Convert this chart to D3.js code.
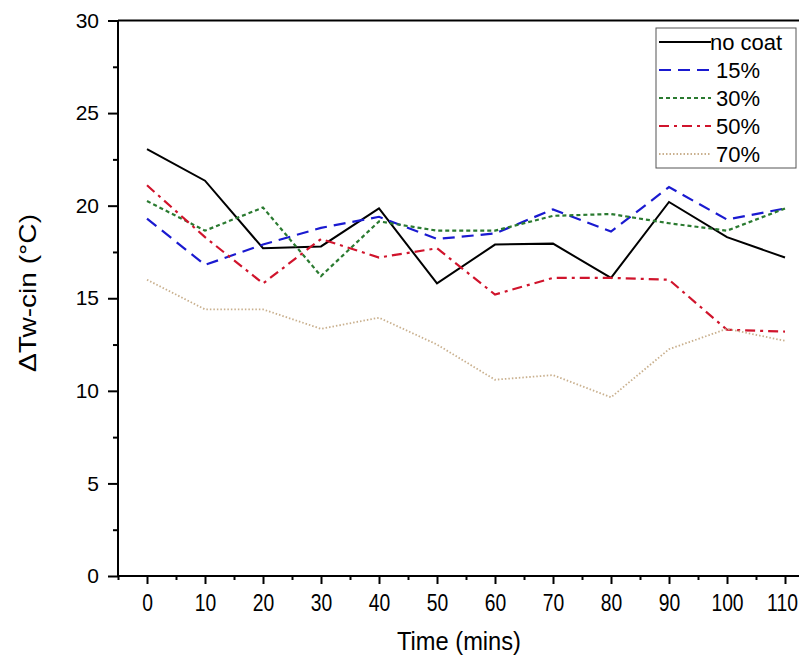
<!DOCTYPE html>
<html>
<head>
<meta charset="utf-8">
<script src="https://cdn.jsdelivr.net/npm/d3@7"></script>
<style>
  body { margin: 0; background: #fff; }
  svg { display: block; font-family: "Liberation Sans", Arial, sans-serif; }
</style>
</head>
<body>
<svg id="chart" width="799" height="662"></svg>
<script>
// time steps (mins)
const times = [0, 10, 20, 30, 40, 50, 60, 70, 80, 90, 100, 110];
// ΔTw-cin (°C) per coating
const noCoat = [23.05, 21.35, 17.7, 17.8, 19.85, 15.8, 17.9, 17.95, 16.1, 20.2, 18.3, 17.2];
const p15 = [19.3, 16.8, 17.9, 18.8, 19.4, 18.2, 18.5, 19.8, 18.6, 21.0, 19.25, 19.85];
const p30 = [20.25, 18.65, 19.9, 16.2, 19.15, 18.65, 18.65, 19.45, 19.55, 19.05, 18.65, 19.85];
const p50 = [21.1, 18.3, 15.8, 18.2, 17.2, 17.7, 15.2, 16.1, 16.1, 16.0, 13.3, 13.2];
const p70 = [16.0, 14.4, 14.4, 13.35, 13.95, 12.5, 10.6, 10.85, 9.65, 12.25, 13.35, 12.7];
const xTicks = [0, 10, 20, 30, 40, 50, 60, 70, 80, 90, 100, 110];
const yTicks = [0, 5, 10, 15, 20, 25, 30];

const series = [
  { name: "no coat", values: noCoat, color: "#000000", dash: null, w: 2 },
  { name: " 15%", values: p15, color: "#1a1ad0", dash: "12,7", w: 2.2 },
  { name: " 30%", values: p30, color: "#2a7a30", dash: "4,3", w: 2.2 },
  { name: " 50%", values: p50, color: "#d0142c", dash: "10,5,3,5", w: 2.2 },
  { name: " 70%", values: p70, color: "#c9b08e", dash: "1.5,2", w: 1.8 },
];

const svg = d3.select("#chart");
const x = d3.scaleLinear().domain([-5, 115]).range([118, 814]);
const y = d3.scaleLinear().domain([0, 30]).range([576, 20.5]);

// frame (top line; right side is cut off)
svg.append("line").attr("x1", 118).attr("x2", 799).attr("y1", y(30)).attr("y2", y(30))
  .attr("stroke", "#000").attr("stroke-width", 2);

// ---------- axes ----------
const gx = svg.append("g").attr("transform", `translate(0,${y(0)})`);
gx.call(d3.axisBottom(x).tickValues(d3.range(-5, 116, 10)).tickSize(4).tickFormat(""));
gx.call((g) => g.append("g").call(d3.axisBottom(x).tickValues(xTicks).tickSize(8).tickPadding(11).tickFormat(d3.format("d"))));
gx.select("path.domain").attr("d", `M118,0H799`).attr("stroke-width", 2);
gx.selectAll("g g path.domain").remove();
gx.selectAll("line").attr("stroke-width", 2);
// tick labels are tall and narrow in the original; last one sits at the picture edge
gx.selectAll("text").attr("font-size", 23).attr("fill", "#000")
  .attr("transform", (d) => (d === 110 ? "translate(-3,0) scale(0.84,1)" : "scale(0.84,1)"));

const gy = svg.append("g").attr("transform", `translate(${x(-5)},0)`);
gy.call(d3.axisLeft(y).tickValues(d3.range(2.5, 30, 5)).tickSize(5).tickFormat(""));
gy.call((g) => g.append("g").call(d3.axisLeft(y).tickValues(yTicks).tickSize(10).tickPadding(9)));
gy.selectAll("path.domain").attr("stroke-width", 2).attr("d", `M0,${y(0)}V${y(30)}`);
gy.selectAll("line").attr("stroke-width", 2);
gy.selectAll("text").attr("font-size", 21).attr("fill", "#000");

svg.append("text").attr("x", 459).attr("y", 650).attr("text-anchor", "middle")
  .attr("font-size", 25).attr("textLength", 124).attr("lengthAdjust", "spacingAndGlyphs")
  .text("Time (mins)");
svg.append("text").attr("transform", `translate(36,293) rotate(-90)`).attr("text-anchor", "middle")
  .attr("font-size", 24).attr("textLength", 158).attr("lengthAdjust", "spacingAndGlyphs")
  .text("ΔTw-cin (°C)");

// ---------- lines ----------
const line = d3.line().x((d, i) => x(times[i])).y((d) => y(d));
for (const s of series) {
  svg.append("path").datum(s.values).attr("d", line).attr("fill", "none")
    .attr("stroke", s.color).attr("stroke-width", s.w)
    .attr("stroke-dasharray", s.dash);
}

// ---------- legend ----------
const lg = svg.append("g");
lg.append("rect").attr("x", 656).attr("y", 28).attr("width", 140).attr("height", 140)
  .attr("fill", "#fff").attr("stroke", "#555").attr("stroke-width", 1);
series.forEach((s, i) => {
  const ly = 42 + i * 28;
  lg.append("line").attr("x1", 659).attr("x2", 711).attr("y1", ly).attr("y2", ly)
    .attr("stroke", s.color).attr("stroke-width", s.w).attr("stroke-dasharray", s.dash);
  lg.append("text").attr("x", 710).attr("y", ly + 8).attr("font-size", 22)
    .attr("xml:space", "preserve").style("white-space", "pre").text(s.name);
});
</script>
</body>
</html>
